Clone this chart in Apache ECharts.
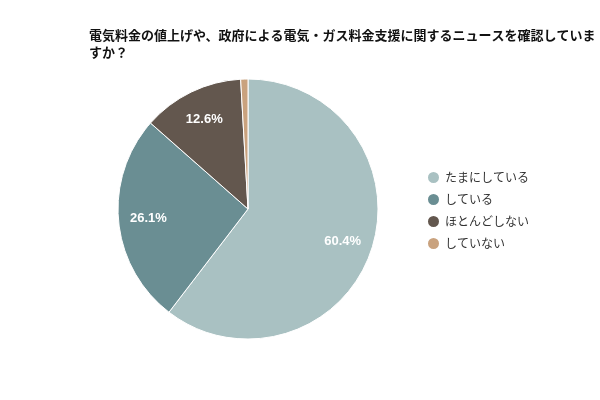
<!DOCTYPE html>
<html>
<head>
<meta charset="utf-8">
<script src="https://cdn.jsdelivr.net/npm/echarts@6/dist/echarts.min.js"></script>
<style>
  html, body { margin: 0; padding: 0; background: #ffffff; }
  #chart { width: 600px; height: 400px; }
</style>
</head>
<body>
<div id="chart"></div>
<script>
var titleText = "電気料金の値上げや、政府による電気・ガス料金支援に関するニュースを確認していますか？";
var categories = ["たまにしている", "している", "ほとんどしない", "していない"];
var values = [60.4, 26.1, 12.6, 0.9];
var colors = ["#a9c1c2", "#6a8e93", "#63574e", "#c9a27e"];

var font = "'Noto Sans CJK JP', 'Noto Sans', sans-serif";
var numFont = "'Liberation Sans', Arial, sans-serif";

var pieData = categories.map(function (name, i) {
  return { name: name, value: values[i], itemStyle: { color: colors[i] } };
});

var chart = echarts.init(document.getElementById('chart'));
var option = {
  animation: false,
  title: {
    text: titleText,
    left: 84,
    top: 22,
    textStyle: {
      fontFamily: font,
      fontSize: 13,
      fontWeight: 'bold',
      color: '#111111',
      width: 512,
      overflow: 'break',
      lineHeight: 17
    }
  },
  legend: {
    orient: 'vertical',
    left: 421,
    top: 165,
    itemWidth: 13,
    itemHeight: 13,
    itemGap: 7,
    icon: 'circle',
    data: categories,
    textStyle: {
      fontFamily: font,
      fontSize: 12,
      color: '#333333'
    }
  },
  series: [
    {
      name: 'pie',
      type: 'pie',
      center: [248, 209],
      radius: [0, 130],
      startAngle: 90,
      clockwise: true,
      label: { show: false },
      labelLine: { show: false },
      itemStyle: { borderColor: '#ffffff', borderWidth: 1 },
      emphasis: { disabled: true },
      data: pieData
    },
    {
      // transparent overlay only used to push labels outward
      name: 'labels',
      type: 'pie',
      center: [248, 209],
      radius: [64, 130],
      startAngle: 90,
      clockwise: true,
      silent: true,
      legendHoverLink: false,
      itemStyle: { color: 'rgba(0,0,0,0)', borderWidth: 0 },
      label: {
        show: true,
        position: 'inside',
        fontFamily: numFont,
        fontSize: 13,
        fontWeight: 'bold',
        color: '#ffffff',
        formatter: function (p) {
          return p.value < 2 ? '' : p.value.toFixed(1) + '%';
        }
      },
      labelLine: { show: false },
      emphasis: { disabled: true },
      data: values.map(function (v, i) {
        return { name: categories[i] + ' ', value: v };
      })
    }
  ]
};
chart.setOption(option);
</script>
</body>
</html>
